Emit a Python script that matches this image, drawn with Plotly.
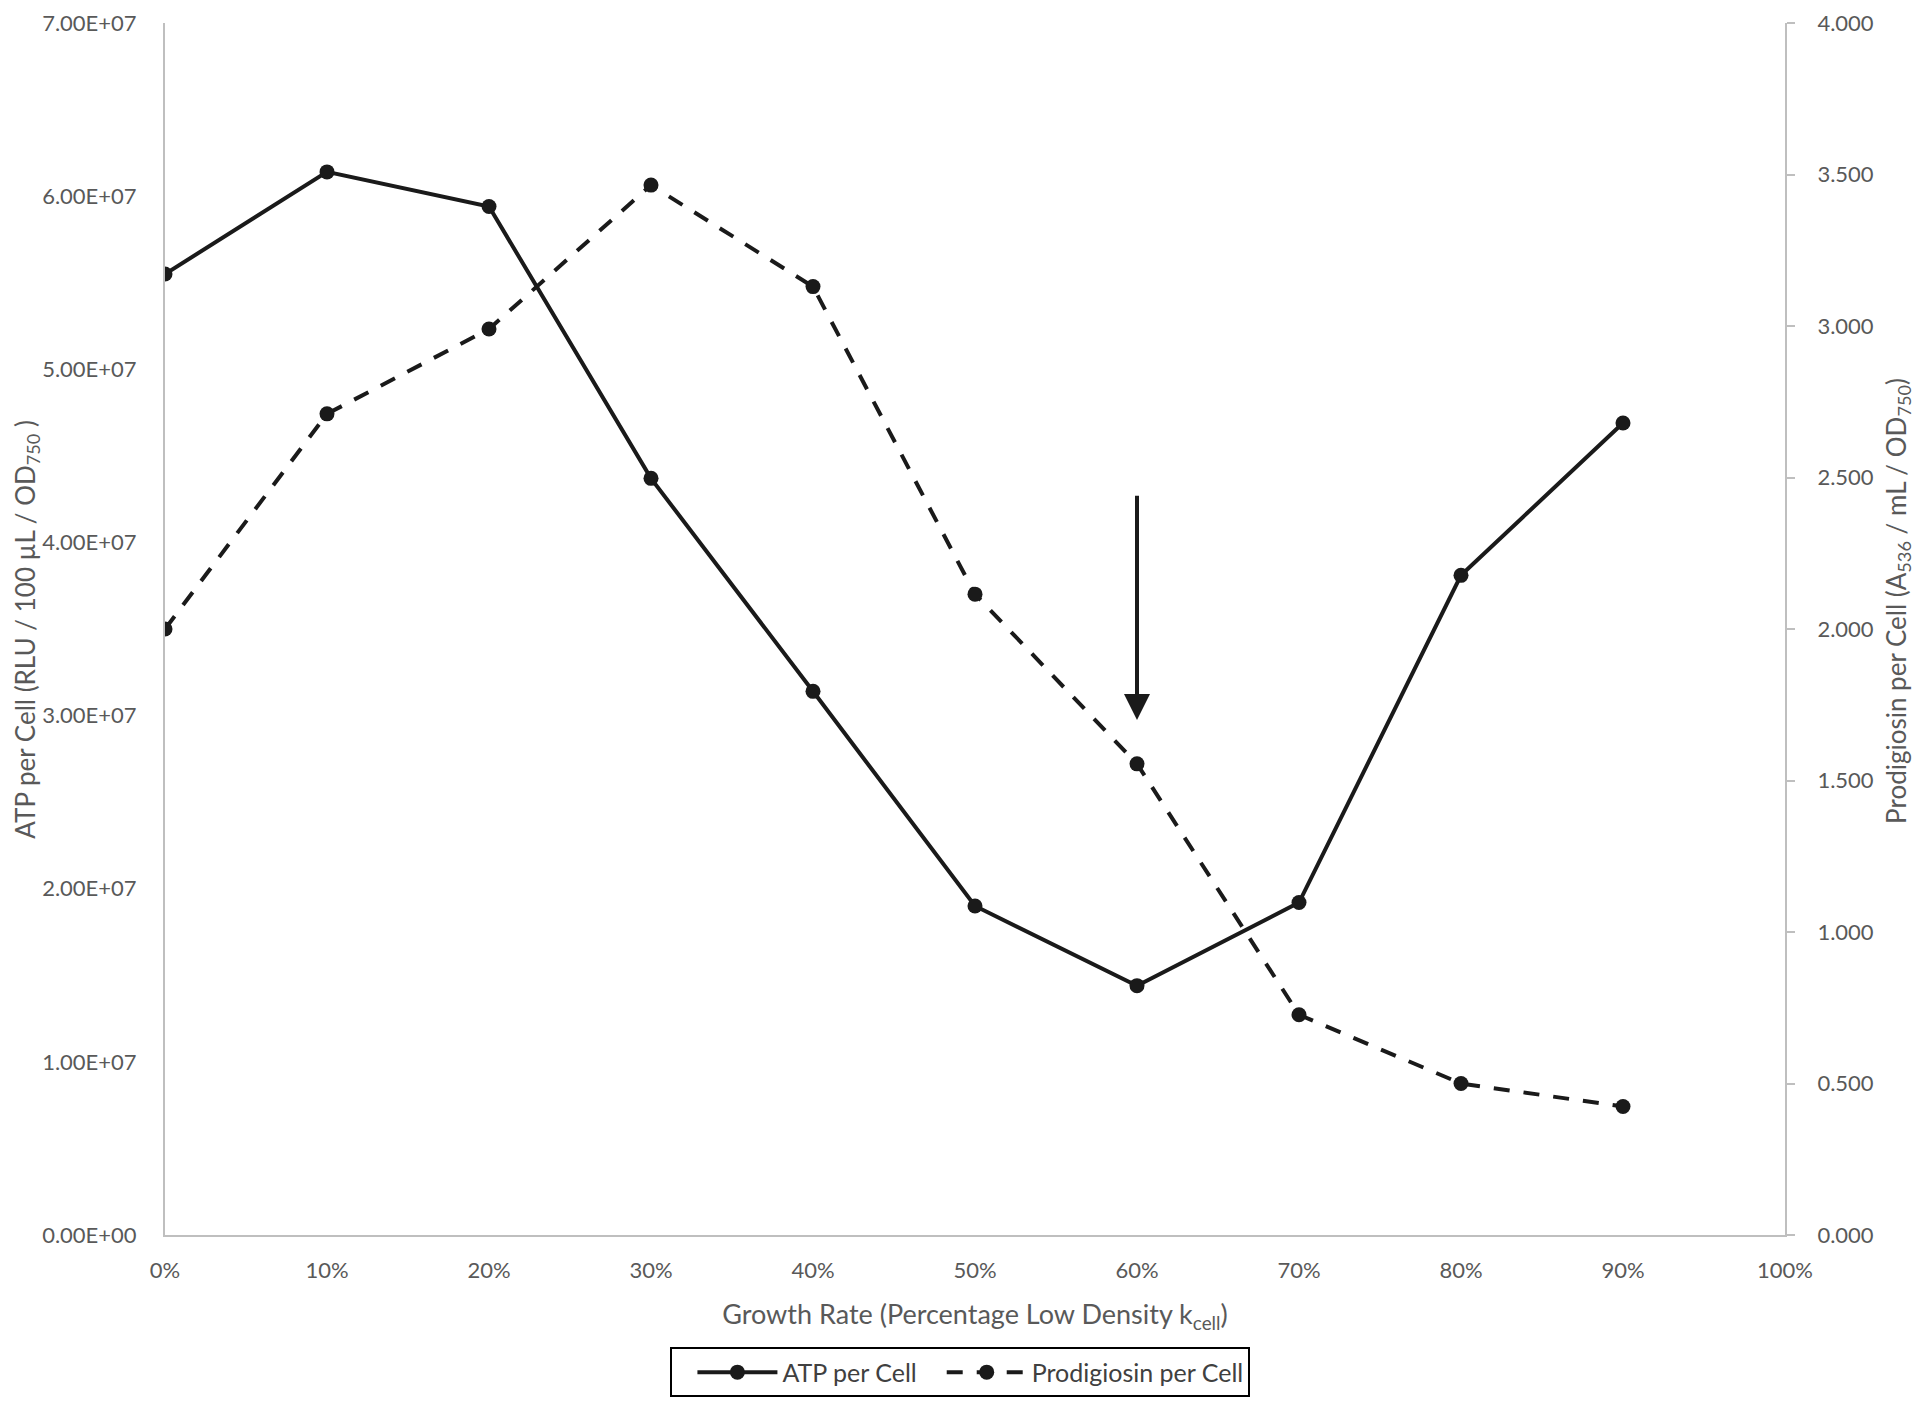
import plotly.graph_objects as go

# Datos
growth_rate = [0, 10, 20, 30, 40, 50, 60, 70, 80, 90]
atp_per_cell = [5.55e7, 6.14e7, 5.94e7, 4.37e7, 3.14e7, 1.90e7, 1.44e7, 1.92e7, 3.81e7, 4.69e7]
prodigiosin_per_cell = [2.000, 2.710, 2.990, 3.465, 3.130, 2.115, 1.555, 0.727, 0.500, 0.424]

x_ticks = [0, 10, 20, 30, 40, 50, 60, 70, 80, 90, 100]
x_ticktext = [f"{v}%" for v in x_ticks]
left_ticks = [0, 1e7, 2e7, 3e7, 4e7, 5e7, 6e7, 7e7]
left_ticktext = ["0.00E+00", "1.00E+07", "2.00E+07", "3.00E+07",
                 "4.00E+07", "5.00E+07", "6.00E+07", "7.00E+07"]
right_ticks = [0, 0.5, 1.0, 1.5, 2.0, 2.5, 3.0, 3.5, 4.0]

# Flecha en 60%
arrow_x = 60
arrow_top = 2.445
arrow_tip = 1.70

font_family = "Lato, Open Sans, sans-serif"
grey_text = "#595959"
axis_grey = "#BFBFBF"
ink = "#1a1a1a"

fig = go.Figure()

fig.add_trace(go.Scatter(
    x=growth_rate, y=atp_per_cell,
    name="ATP per Cell",
    mode="lines+markers",
    line=dict(color=ink, width=4),
    marker=dict(symbol="circle", size=15, color=ink),
    yaxis="y"
))

fig.add_trace(go.Scatter(
    x=growth_rate, y=prodigiosin_per_cell,
    name="Prodigiosin per Cell",
    mode="lines+markers",
    line=dict(color=ink, width=4, dash="16px,14px"),
    marker=dict(symbol="circle", size=15, color=ink),
    yaxis="y2"
))

fig.add_annotation(
    x=arrow_x, y=arrow_tip, xref="x", yref="y2",
    ax=arrow_x, ay=arrow_top, axref="x", ayref="y2",
    text="", showarrow=True,
    arrowhead=2, arrowsize=1.3, arrowwidth=4, arrowcolor=ink
)

# titulos de los ejes Y como anotaciones
fig.add_annotation(
    text="ATP per Cell (RLU / 100 µL / OD<sub>750</sub> )",
    xref="paper", yref="paper", x=-0.086, y=0.5,
    xanchor="center", yanchor="middle", textangle=-90,
    showarrow=False, font=dict(size=26, color=grey_text)
)
fig.add_annotation(
    text="Prodigiosin per Cell (A<sub>536</sub> / mL / OD<sub>750</sub>)",
    xref="paper", yref="paper", x=1.069, y=0.523,
    xanchor="center", yanchor="middle", textangle=-90,
    showarrow=False, font=dict(size=26, color=grey_text)
)

# la pagina tiene 8px de margen en el body, se compensa aqui
fig.update_layout(
    width=1912, height=1401,
    paper_bgcolor="white", plot_bgcolor="white",
    margin=dict(l=157, r=135, t=15, b=172),
    font=dict(family=font_family, size=22, color=grey_text),
    showlegend=True,
    legend=dict(
        orientation="h",
        x=0.491, xanchor="center",
        y=-0.134, yanchor="bottom",
        bordercolor="black", borderwidth=2,
        font=dict(size=25, color="#404040"),
        itemwidth=80, indentation=20,
        traceorder="normal"
    ),
    xaxis=dict(
        range=[0, 100],
        tickvals=x_ticks, ticktext=x_ticktext,
        showgrid=False, zeroline=False,
        showline=True, linecolor=axis_grey, linewidth=2,
        ticks="", ticklabelstandoff=15, automargin=False,
        title=dict(text="Growth Rate (Percentage Low Density k<sub>cell</sub>)",
                   font=dict(size=27, color=grey_text), standoff=23)
    ),
    yaxis=dict(
        range=[0, 7e7],
        tickvals=left_ticks, ticktext=left_ticktext,
        showgrid=False, zeroline=False,
        showline=True, linecolor=axis_grey, linewidth=2,
        ticks="", ticklabelstandoff=22, automargin=False
    ),
    yaxis2=dict(
        range=[0, 4],
        tickvals=right_ticks, tickformat=".3f",
        overlaying="y", side="right",
        showgrid=False, zeroline=False,
        showline=True, linecolor=axis_grey, linewidth=2,
        ticks="outside", ticklen=8, tickcolor=axis_grey, tickwidth=2,
        ticklabelstandoff=18, automargin=False
    )
)

fig.write_html("out.html")
